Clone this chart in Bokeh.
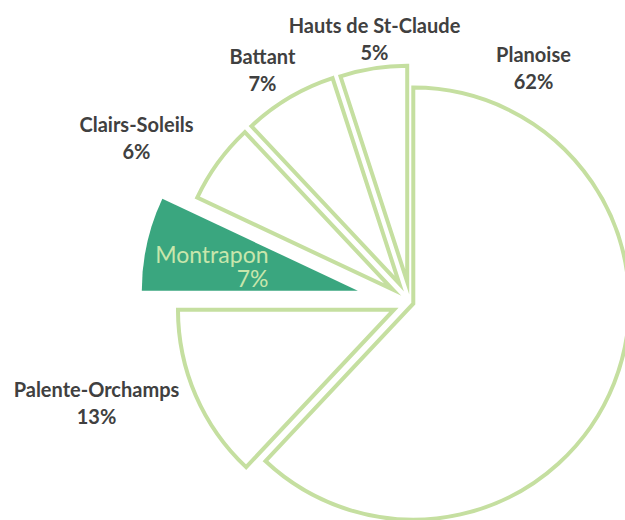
import math
from bokeh.plotting import figure
from bokeh.models import ColumnDataSource, Range1d
from bokeh.embed import file_html
from bokeh.resources import INLINE
from bokeh.core.properties import value

# ---- data ----
districts = ["Planoise", "Palente-Orchamps", "Montrapon", "Clairs-Soleils", "Battant", "Hauts de St-Claude"]
shares = [62, 13, 7, 6, 7, 5]
pct_labels = ["62%", "13%", "7%", "6%", "7%", "5%"]

# ---- layout / style ----
W, H = 625, 520
CX, CY = 410, 218          # pie centre (data units = px)
R = 216
explode = [3, 18, 54, 22, 22, 21]
highlight = "Montrapon"
OUTLINE = "#C5DFA0"
HIGHLIGHT_FILL = "#3AA67F"
TEXT = "#404040"
# label anchor (x, y of name line) per district
label_pos = {
    "Planoise": (533, 467),
    "Palente-Orchamps": (96, 132),
    "Clairs-Soleils": (136, 397),
    "Battant": (262, 465),
    "Hauts de St-Claude": (374, 496),
}

p = figure(width=W, height=H, output_backend="svg", toolbar_location=None,
           x_range=Range1d(0, W), y_range=Range1d(0, H), min_border=0)
p.axis.visible = False
p.grid.visible = False
p.outline_line_color = None
p.background_fill_color = "white"

total = sum(shares)
cum = 0
xs, ys, st, en, fills, falpha, lcol = [], [], [], [], [], [], []
for name, v, d in zip(districts, shares, explode):
    a0 = math.radians(90 - cum / total * 360)
    cum += v
    a1 = math.radians(90 - cum / total * 360)
    mid = (a0 + a1) / 2
    xs.append(CX + d * math.cos(mid))
    ys.append(CY + d * math.sin(mid))
    st.append(a1)
    en.append(a0)
    if name == highlight:
        fills.append(HIGHLIGHT_FILL); falpha.append(1.0); lcol.append(None)
    else:
        fills.append("white"); falpha.append(0.0); lcol.append(OUTLINE)

src = ColumnDataSource(dict(x=xs, y=ys, s=st, e=en, f=fills, fa=falpha, lc=lcol))
p.wedge(x="x", y="y", radius=R, start_angle="s", end_angle="e", direction="anticlock",
        fill_color="f", fill_alpha="fa", line_color="lc", line_width=4, line_join="miter", source=src)

# outside labels
for name, pct in zip(districts, pct_labels):
    if name == highlight:
        continue
    lx, ly = label_pos[name]
    p.text(x=[lx], y=[ly], text=[name], text_align="center", text_baseline="middle",
           text_font=value("Lato"), text_font_style="bold", text_font_size="20px", text_color=TEXT)
    p.text(x=[lx], y=[ly - 27], text=[pct], text_align="center", text_baseline="middle",
           text_font=value("Lato"), text_font_style="bold", text_font_size="20px", text_color=TEXT)

# inside label of highlighted slice
hi = districts.index(highlight)
p.text(x=[268], y=[267], text=[highlight], text_align="right", text_baseline="middle",
       text_font=value("Lato"), text_font_size="23px", text_color="#C8E6AC")
p.text(x=[268], y=[243], text=[pct_labels[hi]], text_align="right", text_baseline="middle",
       text_font=value("Lato"), text_font_size="23px", text_color="#C8E6AC")

open("out.html", "w").write(file_html(p, INLINE))
